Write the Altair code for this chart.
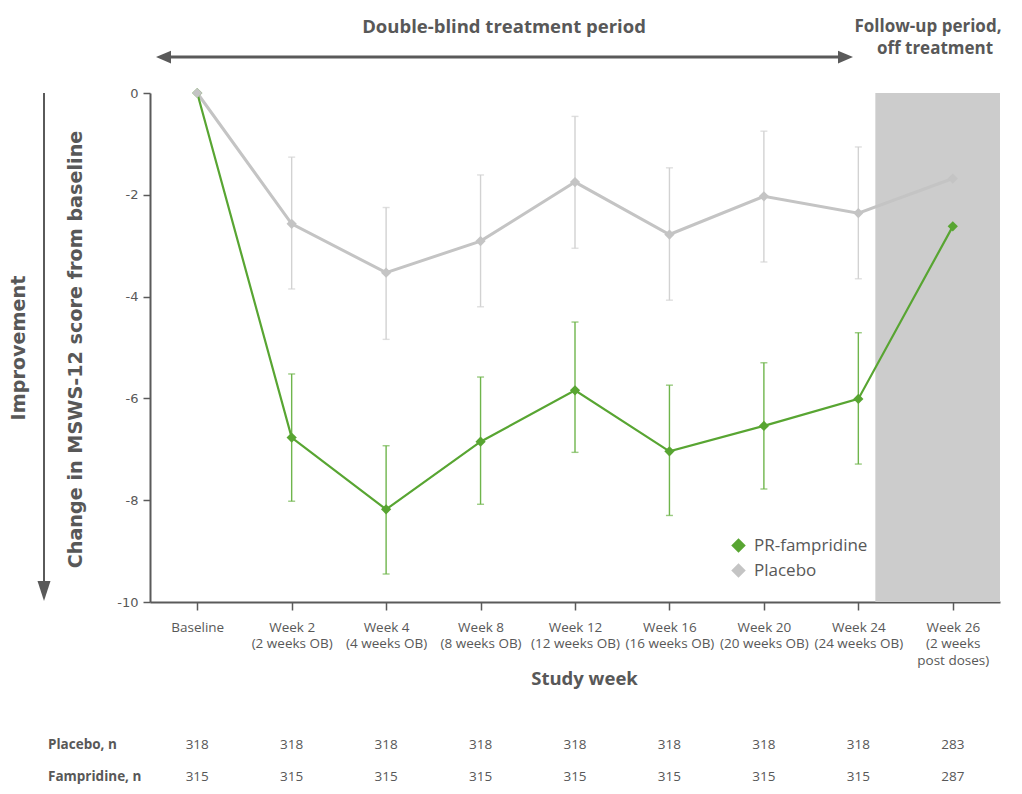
import json
import altair as alt
import pandas as pd

# ---------------- data ----------------
WEEK_LABELS = [
    ["Baseline"],
    ["Week 2", "(2 weeks OB)"],
    ["Week 4", "(4 weeks OB)"],
    ["Week 8", "(8 weeks OB)"],
    ["Week 12", "(12 weeks OB)"],
    ["Week 16", "(16 weeks OB)"],
    ["Week 20", "(20 weeks OB)"],
    ["Week 24", "(24 weeks OB)"],
    ["Week 26", "(2 weeks", "post doses)"],
]
WEEK_IDX = [0, 1, 2, 3, 4, 5, 6, 7, 8]

PLACEBO_MEAN = [0.0, -2.57, -3.53, -2.91, -1.75, -2.78, -2.03, -2.36, -1.68]
PLACEBO_LO = [None, -3.85, -4.84, -4.20, -3.05, -4.07, -3.32, -3.65, None]
PLACEBO_HI = [None, -1.26, -2.25, -1.61, -0.46, -1.47, -0.75, -1.06, None]

FAMP_MEAN = [0.0, -6.77, -8.18, -6.85, -5.84, -7.04, -6.54, -6.01, -2.62]
FAMP_LO = [None, -8.02, -9.45, -8.08, -7.06, -8.30, -7.78, -7.29, None]
FAMP_HI = [None, -5.52, -6.93, -5.58, -4.50, -5.74, -5.30, -4.71, None]

PLACEBO_N = [318, 318, 318, 318, 318, 318, 318, 318, 283]
FAMP_N = [315, 315, 315, 315, 315, 315, 315, 315, 287]

SERIES = ["PR-fampridine", "Placebo"]
FOLLOWUP_START = 7.18  # start of follow-up shading (in week-index units)

# ---------------- styling ----------------
GREEN = "#58a532"
GREEN_ERR = "#6fb54c"
GRAY = "#c4c4c4"
GRAY_ERR = "#d2d2d2"
BAND = "#cccccc"
TXT = "#585858"
AX = "#5a5a5a"
SANS = "Open Sans"
VERD = "DejaVu Sans"

rows = []
for i in WEEK_IDX:
    rows.append(dict(x=i, series="PR-fampridine", mean=FAMP_MEAN[i], lo=FAMP_LO[i], hi=FAMP_HI[i]))
    rows.append(dict(x=i, series="Placebo", mean=PLACEBO_MEAN[i], lo=PLACEBO_LO[i], hi=PLACEBO_HI[i]))
df = pd.DataFrame(rows)
df_err = df.dropna(subset=["lo"])

color_scale = alt.Scale(domain=SERIES, range=[GREEN, GRAY])
err_scale = alt.Scale(domain=SERIES, range=[GREEN_ERR, GRAY_ERR])

label_expr = json.dumps(WEEK_LABELS) + "[datum.value]"

xenc = alt.X(
    "x:Q",
    scale=alt.Scale(domain=[-0.5, 8.5], nice=False, zero=False),
    axis=alt.Axis(
        values=WEEK_IDX,
        labelExpr=label_expr,
        grid=False,
        domainColor=AX,
        domainWidth=2,
        tickColor=AX,
        tickWidth=1.5,
        tickSize=8,
        labelFont=SANS,
        labelFontSize=13.5,
        labelColor=TXT,
        labelLineHeight=16.5,
        labelPadding=10,
        labelOverlap=False,
        labelFlush=False,
        title="Study week",
        titleFont=SANS,
        titleFontSize=18.5,
        titleFontWeight="bold",
        titleColor=TXT,
        titleX=434,
        titleY=76,
        titleBaseline="middle",
    ),
)
yscale = alt.Scale(domain=[-10, 0], nice=False)
yenc = alt.Y(
    "mean:Q",
    scale=yscale,
    axis=alt.Axis(
        values=[0, -2, -4, -6, -8, -10],
        labelExpr="datum.value == 0 ? '0' : '-' + abs(datum.value)",
        grid=False,
        domainColor=AX,
        domainWidth=2,
        tickColor=AX,
        tickWidth=1.5,
        tickSize=7,
        labelFont=VERD,
        labelFontSize=13,
        labelColor=TXT,
        labelPadding=5,
        title="Change in MSWS-12 score from baseline",
        titleFont=VERD,
        titleFontSize=19.2,
        titleFontWeight="bold",
        titleColor=TXT,
        titleX=-75,
        titleY=256,
        titleAngle=270,
        titleBaseline="middle",
    ),
)

band = alt.Chart(pd.DataFrame({"x": [FOLLOWUP_START], "x2": [8.5], "y": [0], "y2": [-10]})).mark_rect(
    color=BAND
).encode(x=xenc, x2="x2:Q", y=alt.Y("y:Q", scale=yscale), y2="y2:Q")

err = alt.Chart(df_err).mark_rule(strokeWidth=1.4).encode(
    x="x:Q",
    y=alt.Y("lo:Q", scale=yscale),
    y2="hi:Q",
    color=alt.Color("series:N", scale=err_scale, legend=None),
)
cap_lo = alt.Chart(df_err).mark_tick(orient="horizontal", size=7, thickness=1.4).encode(
    x="x:Q", y=alt.Y("lo:Q", scale=yscale), color=alt.Color("series:N", scale=err_scale, legend=None)
)
cap_hi = alt.Chart(df_err).mark_tick(orient="horizontal", size=7, thickness=1.4).encode(
    x="x:Q", y=alt.Y("hi:Q", scale=yscale), color=alt.Color("series:N", scale=err_scale, legend=None)
)

line_placebo = alt.Chart(df[df.series == "Placebo"]).mark_line(color=GRAY, strokeWidth=3).encode(
    x="x:Q", y=alt.Y("mean:Q", scale=yscale), order="x:Q"
)
line_famp = alt.Chart(df[df.series == "PR-fampridine"]).mark_line(color=GREEN, strokeWidth=2.2).encode(
    x="x:Q", y=alt.Y("mean:Q", scale=yscale), order="x:Q"
)

points = alt.Chart(df).mark_point(filled=True, shape="diamond", size=105, opacity=1).encode(
    x=xenc,
    y=yenc,
    color=alt.Color(
        "series:N",
        scale=color_scale,
        legend=alt.Legend(
            title=None,
            orient="none",
            legendX=580,
            legendY=444,
            symbolType="diamond",
            symbolSize=210,
            symbolStrokeWidth=0,
            symbolOpacity=1,
            labelFont=SANS,
            labelFontSize=17,
            labelColor=TXT,
            labelOffset=7,
            rowPadding=7,
        ),
    ),
)

one = pd.DataFrame({"a": [0]})

imp_arrow = alt.Chart(one).mark_rule(color=AX, strokeWidth=2).encode(
    x=alt.value(-106), y=alt.value(0), y2=alt.value(492)
)
imp_head = alt.Chart(one).mark_point(
    shape="M-0.65,-1L0.65,-1L0,1Z", filled=True, size=400, color=AX, opacity=1
).encode(x=alt.value(-106), y=alt.value(498))
imp_text = alt.Chart(pd.DataFrame({"t": ["Improvement"]})).mark_text(
    font=VERD, fontSize=19.2, fontWeight="bold", color=TXT, angle=270, baseline="middle", align="center"
).encode(x=alt.value(-131), y=alt.value(255), text="t:N")

top_line = alt.Chart(one).mark_rule(color=AX, strokeWidth=3).encode(
    x=alt.value(16), x2=alt.value(694), y=alt.value(-36)
)
top_head_l = alt.Chart(one).mark_point(
    shape="M-1,0L1,-0.85L1,0.85Z", filled=True, size=225, color=AX, opacity=1
).encode(x=alt.value(13.5), y=alt.value(-36))
top_head_r = alt.Chart(one).mark_point(
    shape="M1,0L-1,-0.85L-1,0.85Z", filled=True, size=225, color=AX, opacity=1
).encode(x=alt.value(695.5), y=alt.value(-36))

hdr_main = alt.Chart(pd.DataFrame({"t": ["Double-blind treatment period"]})).mark_text(
    font=SANS, fontSize=18.5, fontWeight="bold", color=TXT, align="center", baseline="middle"
).encode(x=alt.value(354), y=alt.value(-66), text="t:N")
hdr_fu = pd.DataFrame({"t": ["Follow-up period,", "off treatment"], "px": [778, 785], "py": [-66, -44]})
hdr_fu_text = alt.Chart(hdr_fu).mark_text(
    font=SANS, fontSize=17, fontWeight="bold", color=TXT, align="center", baseline="middle"
).encode(x=alt.X("px:Q", scale=None), y=alt.Y("py:Q", scale=None), text="t:N")

ntab = pd.DataFrame(
    {
        "x": WEEK_IDX + WEEK_IDX,
        "n": PLACEBO_N + FAMP_N,
        "py": [652] * 9 + [684] * 9,
    }
)
n_text = alt.Chart(ntab).mark_text(
    font=SANS, fontSize=13.5, color=TXT, align="center", baseline="middle"
).encode(x="x:Q", y=alt.Y("py:Q", scale=None), text="n:N")
rowlab = pd.DataFrame({"t": ["Placebo, n", "Fampridine, n"], "py": [652, 684]})
row_text = alt.Chart(rowlab).mark_text(
    font=SANS, fontSize=13.5, fontWeight="bold", color=TXT, align="left", baseline="middle"
).encode(x=alt.value(-102), y=alt.Y("py:Q", scale=None), text="t:N")

chart = (
    alt.layer(
        band,
        err,
        cap_lo,
        cap_hi,
        line_placebo,
        line_famp,
        points,
        imp_arrow,
        imp_head,
        imp_text,
        top_line,
        top_head_l,
        top_head_r,
        hdr_main,
        hdr_fu_text,
        n_text,
        row_text,
    )
    .resolve_scale(color="independent")
    .properties(
        width=850,
        height=509,
        autosize=alt.AutoSizeParams(type="none"),
        padding={"left": 142, "top": 85, "right": 12, "bottom": 184},
        background="white",
    )
    .configure_view(stroke=None)
)

chart.save("out.html", embed_options={"renderer": "svg", "actions": False})
